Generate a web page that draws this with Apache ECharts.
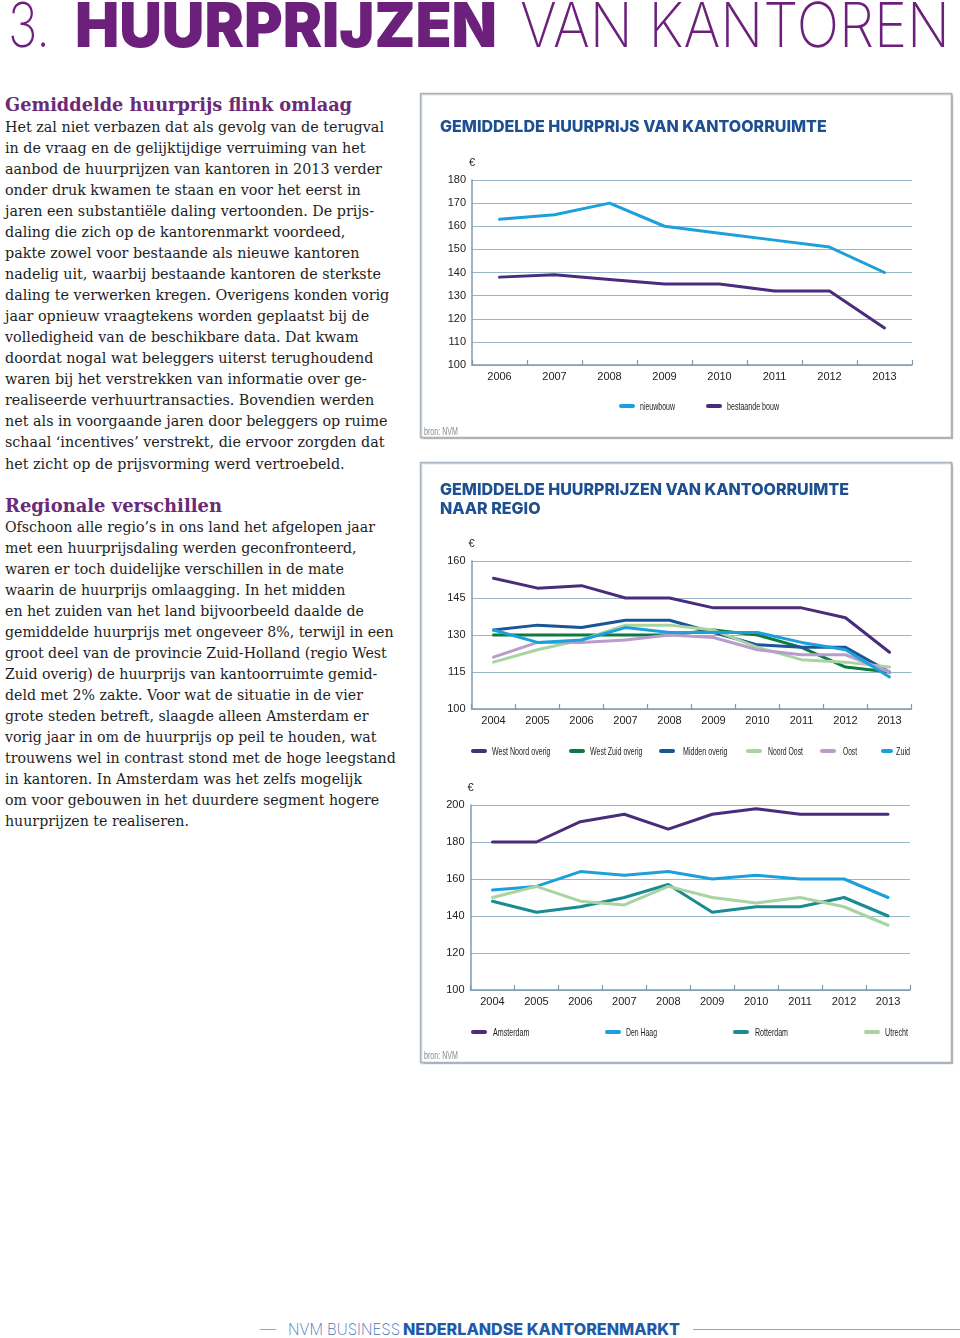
<!DOCTYPE html>
<html><head><meta charset="utf-8">
<script src="https://cdn.jsdelivr.net/npm/echarts@6/dist/echarts.min.js"></script>
<style>
html,body{margin:0;padding:0;background:#fff;width:960px;height:1338px;overflow:hidden;position:relative}
.abs{position:absolute;white-space:nowrap;transform-origin:0 0}
.hdr{font-family:Inter,'Open Sans',sans-serif;font-size:62px;line-height:62px;color:#6c1f7b}
.thin{font-weight:200}
.heavy{font-weight:900}
.h2{font-family:'DejaVu Serif',serif;font-weight:bold;font-size:19px;line-height:22px;color:#6b2a78}
.para{font-family:'DejaVu Serif',serif;font-size:15px;line-height:21.07px;color:#1e1e1e}
.para div{white-space:nowrap}
.foot{font-family:Inter,'Open Sans',sans-serif;font-size:16px;line-height:18px}
.rule{position:absolute;height:0;border-top:1px solid #8aa6c8}
</style></head><body>
<div class="abs hdr thin" id="h1" style="left:8px;top:-6px">3.</div>
<div class="abs hdr heavy" id="h2" style="left:75px;top:-6px">HUURPRIJZEN</div>
<div class="abs hdr thin" id="h3" style="left:520px;top:-6px">VAN KANTOREN</div>

<div class="abs h2" id="hd1" style="left:5px;top:93px">Gemiddelde huurprijs flink omlaag</div>
<div class="abs para" id="p1" style="left:5px;top:116.5px">
<div><span id="p1l1">Het zal niet verbazen dat als gevolg van de terugval</span></div>
<div>in de vraag en de gelijktijdige verruiming van het</div>
<div>aanbod de huurprijzen van kantoren in 2013 verder</div>
<div>onder druk kwamen te staan en voor het eerst in</div>
<div>jaren een substantiële daling vertoonden. De prijs-</div>
<div>daling die zich op de kantorenmarkt voordeed,</div>
<div>pakte zowel voor bestaande als nieuwe kantoren</div>
<div>nadelig uit, waarbij bestaande kantoren de sterkste</div>
<div>daling te verwerken kregen. Overigens konden vorig</div>
<div>jaar opnieuw vraagtekens worden geplaatst bij de</div>
<div>volledigheid van de beschikbare data. Dat kwam</div>
<div>doordat nogal wat beleggers uiterst terughoudend</div>
<div>waren bij het verstrekken van informatie over ge-</div>
<div>realiseerde verhuurtransacties. Bovendien werden</div>
<div>net als in voorgaande jaren door beleggers op ruime</div>
<div>schaal ‘incentives’ verstrekt, die ervoor zorgden dat</div>
<div>het zicht op de prijsvorming werd vertroebeld.</div>
</div>

<div class="abs h2" id="hd2" style="left:5px;top:494px">Regionale verschillen</div>
<div class="abs para" id="p2" style="left:5px;top:516.5px">
<div><span id="p2l1">Ofschoon alle regio’s in ons land het afgelopen jaar</span></div>
<div>met een huurprijsdaling werden geconfronteerd,</div>
<div>waren er toch duidelijke verschillen in de mate</div>
<div>waarin de huurprijs omlaagging. In het midden</div>
<div>en het zuiden van het land bijvoorbeeld daalde de</div>
<div>gemiddelde huurprijs met ongeveer 8%, terwijl in een</div>
<div>groot deel van de provincie Zuid-Holland (regio West</div>
<div>Zuid overig) de huurprijs van kantoorruimte gemid-</div>
<div>deld met 2% zakte. Voor wat de situatie in de vier</div>
<div>grote steden betreft, slaagde alleen Amsterdam er</div>
<div>vorig jaar in om de huurprijs op peil te houden, wat</div>
<div>trouwens wel in contrast stond met de hoge leegstand</div>
<div>in kantoren. In Amsterdam was het zelfs mogelijk</div>
<div>om voor gebouwen in het duurdere segment hogere</div>
<div>huurprijzen te realiseren.</div>
</div>

<div class="rule" style="left:260px;top:1329px;width:16px"></div>
<div class="abs foot" id="f1" style="left:288px;top:1320px;font-weight:200;color:#3f72b8">NVM BUSINESS</div>
<div class="abs foot" id="f2" style="left:403px;top:1320px;font-weight:800;color:#1f5aa8">NEDERLANDSE KANTORENMARKT</div>
<div class="rule" style="left:693px;top:1329px;width:267px"></div>

<div id="chart" style="position:absolute;left:0;top:0;width:960px;height:1338px"></div>
<script>
// ---------- data ----------
const years1 = ['2006','2007','2008','2009','2010','2011','2012','2013'];
const nieuwbouw = [163,165,170,160,157,154,151,140];
const bestaandeBouw = [138,139,137,135,135,132,132,116];
const yTicks1 = [100,110,120,130,140,150,160,170,180];

const years2 = ['2004','2005','2006','2007','2008','2009','2010','2011','2012','2013'];
const westNoordOverig = [153,149,150,145,145,141,141,141,137,123];
const westZuidOverig = [130,130,130,130,130,132,130,125,117,115];
const middenOverig = [132,134,133,136,136,131,126,125,125,115];
const noordOost = [119,124,128,134,134,132,125,120,119,117];
const oost = [121,127,127,128,130,129,124,122,122,115];
const zuid = [132,127,128,133,131,131,131,127,124,113];
const yTicks2 = [100,115,130,145,160];

const amsterdam = [180,180,191,195,187,195,198,195,195,195];
const denHaag = [154,156,164,162,164,160,162,160,160,150];
const rotterdam = [148,142,145,150,157,142,145,145,150,140];
const utrecht = [150,156,148,146,156,150,147,150,145,135];
const yTicks3 = [100,120,140,160,180,200];

// ---------- html text fitting ----------
function fitW(id, w){
  const el=document.getElementById(id);
  el.style.transform='none';
  const r=el.getBoundingClientRect().width;
  el.style.transform='scaleX('+(w/r)+')';
}
function fitBlock(blockId, lineId, w){
  const b=document.getElementById(blockId);
  b.style.transform='none';
  const r=document.getElementById(lineId).getBoundingClientRect().width;
  b.style.transform='scaleX('+(w/r)+')';
}
function fitAll(){
  fitW('h1',42); fitW('h2',422); fitW('h3',430);
  fitW('hd1',347); fitW('hd2',217);
  fitBlock('p1','p1l1',379); fitBlock('p2','p2l1',370);
  fitW('f1',112); fitW('f2',277);
}
fitAll();
if(document.fonts&&document.fonts.ready){document.fonts.ready.then(fitAll);}

// ---------- chart ----------
const C = {
  purple:'#4a2c7c', cyan:'#1ca0db', green:'#0d7a3f', navy:'#1b5597',
  lightgreen:'#a9d3a0', lavender:'#b99ccd', teal:'#1a8b92'
};
const axisCol='#7f9bb0', gridCol='#98b6c7';
const lblFont="'Liberation Sans',Arial,sans-serif";
const titleFont="Inter,'Open Sans',sans-serif";
const legFont="11px 'Liberation Sans',Arial,sans-serif";

const mctx=document.createElement('canvas').getContext('2d');
function textW(t,font){mctx.font=font;return mctx.measureText(t).width;}

function xAx(i, cats){
  return {gridIndex:i,type:'category',data:cats,boundaryGap:true,
    axisLine:{lineStyle:{color:axisCol,width:1.5}},
    axisTick:{show:true,inside:true,length:5,lineStyle:{color:axisCol,width:1.2}},
    axisLabel:{fontFamily:lblFont,fontSize:11,color:'#222',margin:6}};
}
function yAx(i, ticks){
  return {gridIndex:i,type:'value',min:ticks[0],max:ticks[ticks.length-1],
    interval:ticks[1]-ticks[0],
    name:'€',nameLocation:'end',nameGap:12,
    nameTextStyle:{fontFamily:lblFont,fontSize:11,color:'#222',align:'center'},
    axisLine:{show:true,lineStyle:{color:axisCol,width:1.5}},
    axisTick:{show:false},
    splitLine:{show:true,lineStyle:{color:gridCol,width:1.2}},
    axisLabel:{fontFamily:lblFont,fontSize:11,color:'#222',margin:6}};
}
function ser(name, data, color, i){
  return {name:name,type:'line',data:data,xAxisIndex:i,yAxisIndex:i,
    symbol:'none',smooth:false,color:color,
    lineStyle:{color:color,width:3,join:'round',cap:'round'},z:3};
}
// legend item: [name, colour, iconLeft, iconWidth, textLeft, textWidth, centreY]
const legendItems = [
  ['nieuwbouw',C.cyan,619,16,640,35,406],
  ['bestaande bouw',C.purple,706,16,727,52,406],
  ['West Noord overig',C.purple,471,16,492,58.5,751],
  ['West Zuid overig',C.green,569,16,590,52.5,751],
  ['Midden overig',C.navy,659,16,683,44.5,751],
  ['Noord Oost',C.lightgreen,746,16,768,35,751],
  ['Oost',C.lavender,820,16,843,14,751],
  ['Zuid',C.cyan,881,12,896,14,751],
  ['Amsterdam',C.purple,471,16,493,36.5,1032],
  ['Den Haag',C.cyan,605,16,626,31,1032],
  ['Rotterdam',C.teal,733,16,755,33,1032],
  ['Utrecht',C.lightgreen,864,16,885,23,1032]
];
function legendGraphic(it){
  const w=textW(it[0],legFont);
  return {type:'group',x:0,y:it[6],children:[
    {type:'rect',shape:{x:it[2],y:-2,width:it[3],height:4,r:2},style:{fill:it[1]}},
    {type:'text',x:it[4],y:0.5,scaleX:it[5]/w,style:{text:it[0],font:legFont,fill:'#222',verticalAlign:'middle',align:'left'}}
  ]};
}
const bronFont="10px 'Liberation Sans',Arial,sans-serif";
function bron(y){
  return {type:'text',x:424,y:y,scaleX:34/textW('bron: NVM',bronFont),
    style:{text:'bron: NVM',font:bronFont,fill:'#8a8a8a',verticalAlign:'middle'}};
}

const chart = echarts.init(document.getElementById('chart'),null,{renderer:'canvas'});
const option = {
  animation:false,
  backgroundColor:'transparent',
  title:[
    {text:'GEMIDDELDE HUURPRIJS VAN KANTOORRUIMTE',left:440,top:119,padding:0,
     textStyle:{fontFamily:titleFont,fontWeight:800,fontSize:16,color:'#1d4f91'}},
    {text:'GEMIDDELDE HUURPRIJZEN VAN KANTOORRUIMTE\nNAAR REGIO',left:440,top:481,padding:0,
     textStyle:{fontFamily:titleFont,fontWeight:800,fontSize:16,lineHeight:19,color:'#1d4f91'}}
  ],
  grid:[
    {left:472,top:180,width:440,height:185},
    {left:471.5,top:561,width:440,height:148},
    {left:470.5,top:805,width:439.5,height:185}
  ],
  xAxis:[xAx(0,years1),xAx(1,years2),xAx(2,years2)],
  yAxis:[yAx(0,yTicks1),yAx(1,yTicks2),yAx(2,yTicks3)],
  series:[
    ser('nieuwbouw',nieuwbouw,C.cyan,0),
    ser('bestaande bouw',bestaandeBouw,C.purple,0),
    ser('West Noord overig',westNoordOverig,C.purple,1),
    ser('West Zuid overig',westZuidOverig,C.green,1),
    ser('Midden overig',middenOverig,C.navy,1),
    ser('Noord Oost',noordOost,C.lightgreen,1),
    ser('Oost',oost,C.lavender,1),
    ser('Zuid',zuid,C.cyan,1),
    ser('Amsterdam',amsterdam,C.purple,2),
    ser('Den Haag',denHaag,C.cyan,2),
    ser('Rotterdam',rotterdam,C.teal,2),
    ser('Utrecht',utrecht,C.lightgreen,2)
  ],
  graphic:[
    {type:'rect',shape:{x:420.5,y:93.5,width:531,height:344},z:-1,
     style:{fill:'#fff',stroke:'#a8b4c0',lineWidth:1.5,shadowColor:'rgba(0,0,0,0.18)',shadowOffsetX:1,shadowOffsetY:1,shadowBlur:1}},
    {type:'rect',shape:{x:420.5,y:462.5,width:531,height:600},z:-1,
     style:{fill:'#fff',stroke:'#a8b4c0',lineWidth:1.5,shadowColor:'rgba(0,0,0,0.18)',shadowOffsetX:1,shadowOffsetY:1,shadowBlur:1}},
    bron(432), bron(1056)
  ].concat(legendItems.map(legendGraphic))
};
chart.setOption(option);
</script>
</body></html>
